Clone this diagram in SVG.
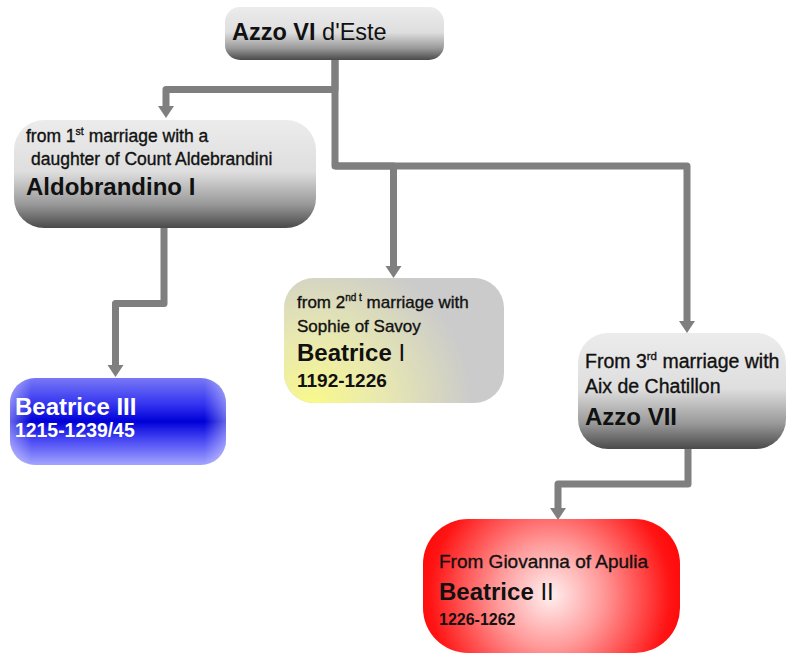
<svg xmlns="http://www.w3.org/2000/svg" width="787" height="656" viewBox="0 0 787 656">
<style>
text{font-family:"Liberation Sans",Arial,sans-serif;fill:#111}
.b{font-weight:bold}
.s{stroke:#111;stroke-width:0.35}
.w{fill:#fff}
.con{fill:none;stroke:#7f7f7f;stroke-width:7;stroke-linejoin:round;marker-end:url(#arr)}
</style>
<defs>
<marker id="arr" markerUnits="userSpaceOnUse" markerWidth="12" markerHeight="18" viewBox="0 0 12 18" refX="0" refY="9" orient="auto">
<path d="M0,1 L12,9 L0,17 z" fill="#7f7f7f"/>
</marker>
<linearGradient id="gray" x1="0" y1="0" x2="0" y2="1">
<stop offset="0" stop-color="#ececec"/>
<stop offset="0.48" stop-color="#dedede"/>
<stop offset="0.78" stop-color="#999999"/>
<stop offset="1" stop-color="#4a4a4a"/>
</linearGradient>
<radialGradient id="yel" gradientUnits="userSpaceOnUse" cx="312" cy="408" r="160">
<stop offset="0" stop-color="#fafa88" stop-opacity="1"/>
<stop offset="0.45" stop-color="#f2f2a8" stop-opacity="0.75"/>
<stop offset="1" stop-color="#f2f2a8" stop-opacity="0"/>
</radialGradient>
<linearGradient id="blue" x1="0" y1="0" x2="0" y2="1">
<stop offset="0" stop-color="#7878f6"/>
<stop offset="0.3" stop-color="#3434f0"/>
<stop offset="0.5" stop-color="#0000d8"/>
<stop offset="0.7" stop-color="#4444f4"/>
<stop offset="1" stop-color="#a4a4ff"/>
</linearGradient>
<linearGradient id="edge" x1="0" y1="0" x2="1" y2="0">
<stop offset="0" stop-color="#fff" stop-opacity="0.4"/>
<stop offset="0.1" stop-color="#fff" stop-opacity="0"/>
<stop offset="0.9" stop-color="#fff" stop-opacity="0"/>
<stop offset="1" stop-color="#fff" stop-opacity="0.4"/>
</linearGradient>
<radialGradient id="red" gradientUnits="userSpaceOnUse" cx="550" cy="595" r="150">
<stop offset="0" stop-color="#fff0f0"/>
<stop offset="0.35" stop-color="#ff9a9a"/>
<stop offset="0.8" stop-color="#ff1414"/>
<stop offset="1" stop-color="#ff0000"/>
</radialGradient>
</defs>

<g id="connectors">
<path class="con" d="M335,60 V89.5 H166 V106"/>
<path class="con" d="M335,60 V166 H393.5 V266"/>
<path class="con" d="M335,166 H687 V321"/>
<path class="con" d="M164,228 V303.5 H115.5 V365"/>
<path class="con" d="M688,449 V484 H558 V508"/>
</g>

<g id="node-azzo6">
<rect x="225" y="7" width="219" height="53" rx="15" fill="url(#gray)"/>
<text x="232" y="40" font-size="23.5"><tspan class="b">Azzo VI</tspan> d'Este</text>
</g>

<g id="node-aldobrandino">
<rect x="14" y="120" width="302" height="108" rx="30" fill="url(#gray)"/>
<text class="s" x="26" y="142" font-size="17.5">from 1<tspan font-size="10.5" dy="-7">st</tspan><tspan dy="7"> marriage with a</tspan></text>
<text class="s" x="31" y="165" font-size="17.5">daughter of Count Aldebrandini</text>
<text x="26" y="195" font-size="24" class="b">Aldobrandino I</text>
</g>

<g id="node-beatrice1">
<rect x="284" y="278" width="220" height="125" rx="30" fill="#cbcbcb"/>
<rect x="284" y="278" width="220" height="125" rx="30" fill="url(#yel)"/>
<text class="s" x="297" y="308" font-size="17">from 2<tspan font-size="10" dy="-7">nd t</tspan><tspan dy="7"> marriage with</tspan></text>
<text class="s" x="297" y="332" font-size="17">Sophie of Savoy</text>
<text x="297" y="361" font-size="24"><tspan class="b">Beatrice</tspan> I</text>
<text x="297" y="387" font-size="19" class="b">1192-1226</text>
</g>

<g id="node-beatrice3">
<rect x="10" y="378" width="216" height="87" rx="25" fill="url(#blue)"/>
<rect x="10" y="378" width="216" height="87" rx="25" fill="url(#edge)"/>
<text x="15" y="415" font-size="24" class="b w">Beatrice III</text>
<text x="15" y="437" font-size="19.4" class="b w">1215-1239/45</text>
</g>

<g id="node-azzo7">
<rect x="578" y="333" width="208" height="116" rx="30" fill="url(#gray)"/>
<text class="s" x="585" y="368" font-size="19.5">From 3<tspan font-size="11.5" dy="-8">rd</tspan><tspan dy="8"> marriage with</tspan></text>
<text class="s" x="585" y="393" font-size="19.5">Aix de Chatillon</text>
<text x="585" y="425" font-size="24" class="b">Azzo VII</text>
</g>

<g id="node-beatrice2">
<rect x="423" y="519" width="257" height="134" rx="45" fill="url(#red)"/>
<text class="s" x="439" y="568" font-size="19">From Giovanna of Apulia</text>
<text x="439" y="600" font-size="24"><tspan class="b">Beatrice</tspan> II</text>
<text x="439" y="625" font-size="16" class="b">1226-1262</text>
</g>
</svg>
